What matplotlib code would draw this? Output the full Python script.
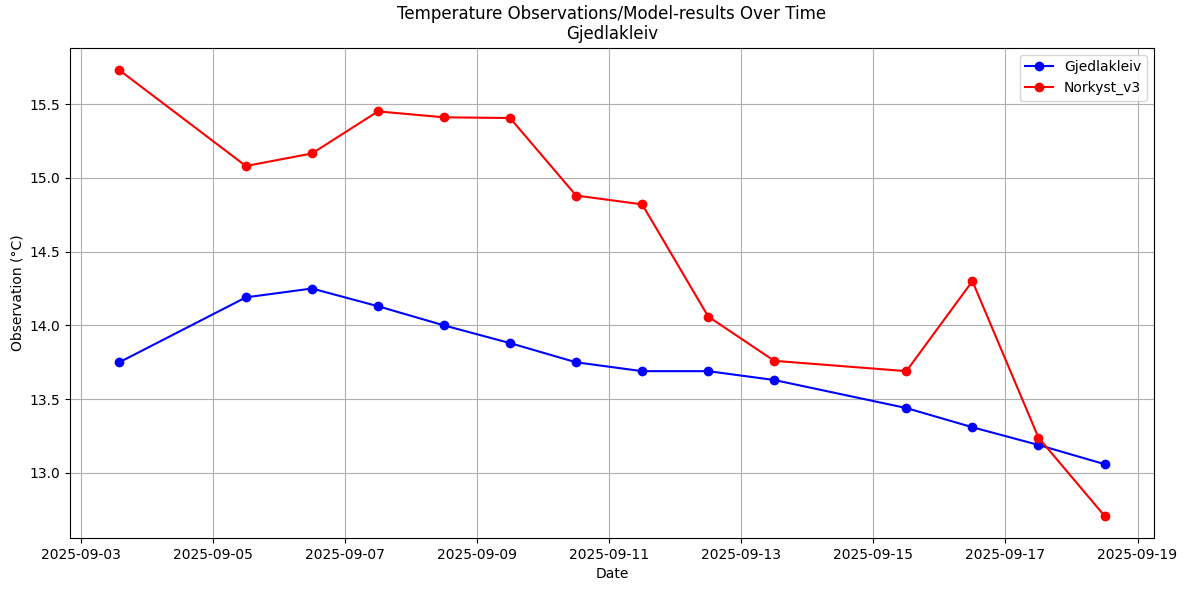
import matplotlib
matplotlib.use("Agg")
import matplotlib.pyplot as plt
import pandas as pd

dates = pd.to_datetime([
    "2025-09-03 14:00", "2025-09-05 12:00", "2025-09-06 12:00", "2025-09-07 12:00",
    "2025-09-08 12:00", "2025-09-09 12:00", "2025-09-10 12:00", "2025-09-11 12:00",
    "2025-09-12 12:00", "2025-09-13 12:00", "2025-09-15 12:00", "2025-09-16 12:00",
    "2025-09-17 12:00", "2025-09-18 12:00",
])
obs = [13.75, 14.19, 14.25, 14.13, 14.00, 13.88, 13.75, 13.69, 13.69, 13.63, 13.44, 13.31, 13.19, 13.06]
model = [15.73, 15.08, 15.165, 15.45, 15.41, 15.405, 14.88, 14.82, 14.06, 13.76, 13.69, 14.30, 13.24, 12.71]

fig, ax = plt.subplots(figsize=(11.87, 5.9), dpi=100)
ax.plot(dates, obs, marker='o', color='blue', label='Gjedlakleiv')
ax.plot(dates, model, marker='o', color='red', label='Norkyst_v3')
ax.set_title('Temperature Observations/Model-results Over Time\nGjedlakleiv')
ax.set_xlabel('Date')
ax.set_ylabel('Observation (°C)')
ax.legend()
ax.grid(True)
fig.subplots_adjust(left=0.059, right=0.972, top=0.919, bottom=0.088)
fig.savefig('out.png')
